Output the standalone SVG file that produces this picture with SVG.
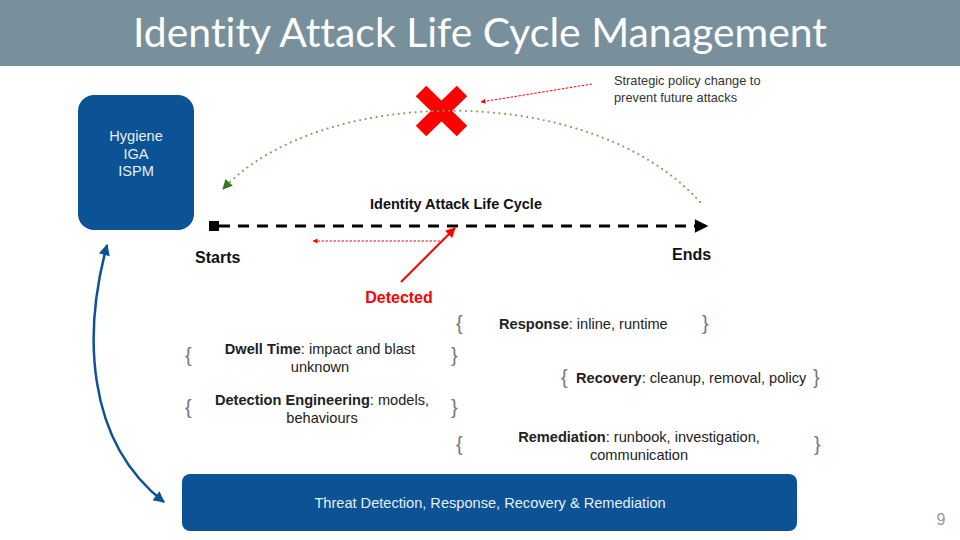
<svg xmlns="http://www.w3.org/2000/svg" width="960" height="540" viewBox="0 0 960 540">
<defs>
<style>
.t{font-family:"Liberation Sans",Arial,sans-serif;}
.b{font-weight:bold;}
.body{font-size:14.6px;fill:#222;}
.br{font-family:"Liberation Sans",Arial,sans-serif;font-size:20px;fill:#777;font-weight:300;}
.wt{font-family:"Liberation Sans",Arial,sans-serif;font-size:14.6px;fill:#e8eef6;}
.title{font-family:Lato,"Open Sans",sans-serif;font-size:40px;fill:#fff;font-variant-ligatures:none;font-feature-settings:"liga" 0;}
</style>
<marker id="blk" viewBox="0 0 10 10" refX="9" refY="5" markerWidth="5" markerHeight="4.5" orient="auto" markerUnits="strokeWidth"><path d="M0,0 L10,5 L0,10 z" fill="#000"/></marker>
<marker id="red" viewBox="0 0 10 10" refX="9" refY="5" markerWidth="6" markerHeight="5" orient="auto" markerUnits="strokeWidth"><path d="M0,0 L10,5 L0,10 z" fill="#ff0000"/></marker>
<marker id="redS" viewBox="0 0 10 10" refX="9" refY="5" markerWidth="5" markerHeight="5" orient="auto" markerUnits="userSpaceOnUse"><path d="M0,0 L10,5 L0,10 z" fill="#ff0000"/></marker>
<marker id="grn" viewBox="0 0 10 10" refX="9" refY="5" markerWidth="12" markerHeight="10" orient="auto" markerUnits="userSpaceOnUse"><path d="M0,0 L10,5 L0,10 z" fill="#38761d"/></marker>
<marker id="blu" viewBox="0 0 10 10" refX="9" refY="5" markerWidth="5" markerHeight="4.5" orient="auto-start-reverse" markerUnits="strokeWidth"><path d="M0,0 L10,5 L0,10 z" fill="#0b5394"/></marker>
</defs>
<rect width="960" height="540" fill="#fff"/>
<rect x="0" y="0" width="960" height="66" fill="#78909c"/>
<text class="title" x="480" y="47" text-anchor="middle" textLength="694" lengthAdjust="spacingAndGlyphs">Identity Attack Life Cycle Management</text>

<g id="hygiene">
<rect x="78" y="95" width="116" height="135" rx="16" fill="#0b5394"/>
<text class="wt" x="136" y="141" text-anchor="middle">Hygiene</text>
<text class="wt" x="136" y="159" text-anchor="middle">IGA</text>
<text class="wt" x="136" y="176" text-anchor="middle">ISPM</text>
</g>

<g id="threat">
<rect x="182" y="474" width="615" height="57" rx="8" fill="#0b5394"/>
<text class="wt" x="490" y="508" text-anchor="middle">Threat Detection, Response, Recovery &amp; Remediation</text>
</g>

<g id="xmark">
<line x1="421" y1="91" x2="462" y2="131" stroke="#ff0000" stroke-width="15"/>
<line x1="462" y1="91" x2="421" y2="131" stroke="#ff0000" stroke-width="15"/>
</g>

<g id="connectors" fill="none">
<rect x="209" y="221" width="10" height="10" fill="#000"/>
<line x1="219" y1="226" x2="707" y2="226" stroke="#000" stroke-width="3" stroke-dasharray="11,8" marker-end="url(#blk)"/>
<line x1="440" y1="241" x2="313" y2="241" stroke="#ff0000" stroke-width="1" stroke-dasharray="2.5,1.5" marker-end="url(#redS)"/>
<line x1="401" y1="282" x2="455" y2="228" stroke="#ff0000" stroke-width="2" marker-end="url(#red)"/>
<line x1="592" y1="84" x2="481" y2="102" stroke="#ff0000" stroke-width="1" stroke-dasharray="2.5,1.5" marker-end="url(#redS)"/>
<path d="M700,202 C590,80 320,85 223,189" stroke="#6aa84f" stroke-width="2" stroke-dasharray="0.1,5.5" stroke-linecap="round" marker-end="url(#grn)"/>
<path d="M107,245 C84,330 84,440 164,502" stroke="#0b5394" stroke-width="2.5" marker-start="url(#blu)" marker-end="url(#blu)"/>
</g>

<g id="labels" class="t">
<text class="t b" x="456" y="209" text-anchor="middle" font-size="14.5" fill="#111">Identity Attack Life Cycle</text>
<text class="t b" x="195" y="263" font-size="16" fill="#111">Starts</text>
<text class="t b" x="672" y="260" font-size="16" fill="#111">Ends</text>
<text class="t b" x="399" y="303" text-anchor="middle" font-size="16" fill="#ff0000">Detected</text>
<text class="t" x="614" y="85" font-size="12.8" fill="#333">Strategic policy change to</text>
<text class="t" x="614" y="102" font-size="12.8" fill="#333">prevent future attacks</text>
</g>

<g id="dwell">
<text class="br" x="185" y="362">{</text>
<text class="br" x="451" y="362">}</text>
<text class="t body" x="320" y="354" text-anchor="middle"><tspan class="b">Dwell Time</tspan>: impact and blast</text>
<text class="t body" x="320" y="372" text-anchor="middle">unknown</text>
</g>
<g id="detection">
<text class="br" x="185" y="414">{</text>
<text class="br" x="451" y="414">}</text>
<text class="t body" x="322" y="405" text-anchor="middle"><tspan class="b">Detection Engineering</tspan>: models,</text>
<text class="t body" x="322" y="423" text-anchor="middle">behaviours</text>
</g>
<g id="response">
<text class="br" x="456" y="330">{</text>
<text class="br" x="702" y="330">}</text>
<text class="t body" x="499" y="329"><tspan class="b">Response</tspan>: inline, runtime</text>
</g>
<g id="recovery">
<text class="br" x="561" y="384">{</text>
<text class="br" x="813" y="384">}</text>
<text class="t body" x="576" y="383"><tspan class="b">Recovery</tspan>: cleanup, removal, policy</text>
</g>
<g id="remediation">
<text class="br" x="456" y="451">{</text>
<text class="br" x="814" y="451">}</text>
<text class="t body" x="639" y="442" text-anchor="middle"><tspan class="b">Remediation</tspan>: runbook, investigation,</text>
<text class="t body" x="639" y="460" text-anchor="middle">communication</text>
</g>
<text class="t" x="941" y="525" text-anchor="middle" font-size="16" fill="#999">9</text>
</svg>
